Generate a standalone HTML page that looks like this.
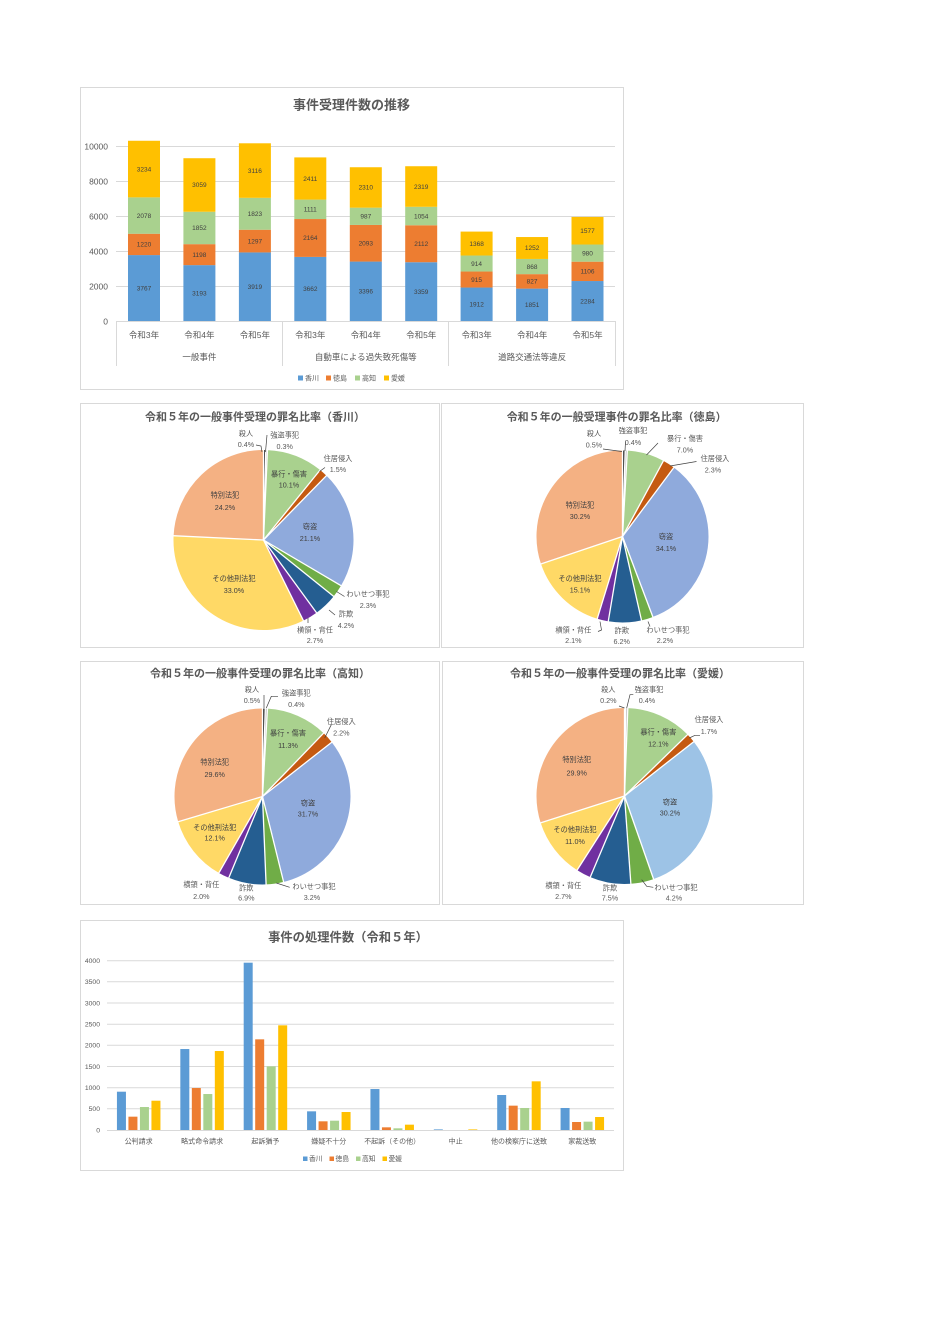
<!DOCTYPE html>
<html><head><meta charset="utf-8">
<style>
html,body{margin:0;padding:0;background:#fff;}
svg{display:block;}
text{font-family:"Liberation Sans","Noto Sans CJK JP",sans-serif;}
</style></head>
<body>
<svg width="940" height="1329" viewBox="0 0 940 1329" xmlns="http://www.w3.org/2000/svg">
<rect x="0" y="0" width="940" height="1329" fill="#fff"/>

<!-- ============ TOP STACKED BAR CHART ============ -->
<rect x="80.5" y="87.5" width="543" height="302" fill="#fff" stroke="#D9D9D9" stroke-width="1"/>
<text x="351.5" y="109.5" text-anchor="middle" font-size="13" font-weight="bold" fill="#595959">事件受理件数の推移</text>
<g stroke="#D9D9D9" stroke-width="1">
<line x1="116" y1="146.5" x2="615" y2="146.5"/>
<line x1="116" y1="181.5" x2="615" y2="181.5"/>
<line x1="116" y1="216.5" x2="615" y2="216.5"/>
<line x1="116" y1="251.5" x2="615" y2="251.5"/>
<line x1="116" y1="286.5" x2="615" y2="286.5"/>
<line x1="116" y1="321.5" x2="615" y2="321.5"/>
<line x1="116.5" y1="321" x2="116.5" y2="366"/>
<line x1="282.5" y1="321" x2="282.5" y2="366"/>
<line x1="448.5" y1="321" x2="448.5" y2="366"/>
<line x1="615.5" y1="321" x2="615.5" y2="366"/>
</g>
<g font-size="8.5" fill="#595959" text-anchor="end">
<text x="108" y="149.5">10000</text>
<text x="108" y="184.5">8000</text>
<text x="108" y="219.5">6000</text>
<text x="108" y="254.5">4000</text>
<text x="108" y="289.5">2000</text>
<text x="108" y="324.5">0</text>
</g>
<!-- bars -->
<g>
<rect x="128" y="255.08" width="32" height="65.92" fill="#5B9BD5"/>
<rect x="128" y="233.73" width="32" height="21.35" fill="#ED7D31"/>
<rect x="128" y="197.37" width="32" height="36.37" fill="#A9D18E"/>
<rect x="128" y="140.77" width="32" height="56.60" fill="#FFC000"/>

<rect x="183.4" y="265.12" width="32" height="55.88" fill="#5B9BD5"/>
<rect x="183.4" y="244.16" width="32" height="20.97" fill="#ED7D31"/>
<rect x="183.4" y="211.75" width="32" height="32.41" fill="#A9D18E"/>
<rect x="183.4" y="158.22" width="32" height="53.53" fill="#FFC000"/>

<rect x="238.9" y="252.42" width="32" height="68.58" fill="#5B9BD5"/>
<rect x="238.9" y="229.72" width="32" height="22.70" fill="#ED7D31"/>
<rect x="238.9" y="197.82" width="32" height="31.90" fill="#A9D18E"/>
<rect x="238.9" y="143.29" width="32" height="54.53" fill="#FFC000"/>

<rect x="294.3" y="256.91" width="32" height="64.09" fill="#5B9BD5"/>
<rect x="294.3" y="219.04" width="32" height="37.87" fill="#ED7D31"/>
<rect x="294.3" y="199.60" width="32" height="19.44" fill="#A9D18E"/>
<rect x="294.3" y="157.41" width="32" height="42.19" fill="#FFC000"/>

<rect x="349.8" y="261.57" width="32" height="59.43" fill="#5B9BD5"/>
<rect x="349.8" y="224.94" width="32" height="36.63" fill="#ED7D31"/>
<rect x="349.8" y="207.67" width="32" height="17.27" fill="#A9D18E"/>
<rect x="349.8" y="167.24" width="32" height="40.43" fill="#FFC000"/>

<rect x="405.2" y="262.22" width="32" height="58.78" fill="#5B9BD5"/>
<rect x="405.2" y="225.26" width="32" height="36.96" fill="#ED7D31"/>
<rect x="405.2" y="206.81" width="32" height="18.45" fill="#A9D18E"/>
<rect x="405.2" y="166.23" width="32" height="40.58" fill="#FFC000"/>

<rect x="460.6" y="287.54" width="32" height="33.46" fill="#5B9BD5"/>
<rect x="460.6" y="271.53" width="32" height="16.01" fill="#ED7D31"/>
<rect x="460.6" y="255.53" width="32" height="16.00" fill="#A9D18E"/>
<rect x="460.6" y="231.59" width="32" height="23.94" fill="#FFC000"/>

<rect x="516.1" y="288.61" width="32" height="32.39" fill="#5B9BD5"/>
<rect x="516.1" y="274.14" width="32" height="14.47" fill="#ED7D31"/>
<rect x="516.1" y="258.95" width="32" height="15.19" fill="#A9D18E"/>
<rect x="516.1" y="237.04" width="32" height="21.91" fill="#FFC000"/>

<rect x="571.5" y="281.03" width="32" height="39.97" fill="#5B9BD5"/>
<rect x="571.5" y="261.67" width="32" height="19.36" fill="#ED7D31"/>
<rect x="571.5" y="244.52" width="32" height="17.15" fill="#A9D18E"/>
<rect x="571.5" y="216.92" width="32" height="27.60" fill="#FFC000"/>
</g>
<!-- data labels -->
<g font-size="6.5" fill="#404040" text-anchor="middle">
<text x="144" y="290.5">3767</text><text x="144" y="246.7">1220</text><text x="144" y="217.8">2078</text><text x="144" y="171.3">3234</text>
<text x="199.4" y="295.3">3193</text><text x="199.4" y="256.9">1198</text><text x="199.4" y="230.2">1852</text><text x="199.4" y="187.2">3059</text>
<text x="254.9" y="289">3919</text><text x="254.9" y="243.3">1297</text><text x="254.9" y="216">1823</text><text x="254.9" y="172.8">3116</text>
<text x="310.3" y="291.2">3662</text><text x="310.3" y="240.2">2164</text><text x="310.3" y="211.6">1111</text><text x="310.3" y="180.8">2411</text>
<text x="365.8" y="293.5">3396</text><text x="365.8" y="245.5">2093</text><text x="365.8" y="218.5">987</text><text x="365.8" y="189.7">2310</text>
<text x="421.2" y="293.9">3359</text><text x="421.2" y="246">2112</text><text x="421.2" y="218.3">1054</text><text x="421.2" y="188.8">2319</text>
<text x="476.6" y="306.5">1912</text><text x="476.6" y="281.8">915</text><text x="476.6" y="265.8">914</text><text x="476.6" y="245.8">1368</text>
<text x="532.1" y="307">1851</text><text x="532.1" y="283.6">827</text><text x="532.1" y="268.8">868</text><text x="532.1" y="250.2">1252</text>
<text x="587.5" y="303.3">2284</text><text x="587.5" y="273.6">1106</text><text x="587.5" y="255.4">980</text><text x="587.5" y="233">1577</text>
</g>
<g font-size="8.5" fill="#595959" text-anchor="middle">
<text x="144" y="338">令和3年</text>
<text x="199.4" y="338">令和4年</text>
<text x="254.9" y="338">令和5年</text>
<text x="310.3" y="338">令和3年</text>
<text x="365.8" y="338">令和4年</text>
<text x="421.2" y="338">令和5年</text>
<text x="476.6" y="338">令和3年</text>
<text x="532.1" y="338">令和4年</text>
<text x="587.5" y="338">令和5年</text>
<text x="199.4" y="360">一般事件</text>
<text x="365.8" y="360">自動車による過失致死傷等</text>
<text x="532.1" y="360">道路交通法等違反</text>
</g>
<g font-size="7" fill="#595959">
<rect x="298" y="375.5" width="5" height="5" fill="#5B9BD5"/><text x="305" y="380.5">香川</text>
<rect x="326" y="375.5" width="5" height="5" fill="#ED7D31"/><text x="333" y="380.5">徳島</text>
<rect x="355" y="375.5" width="5" height="5" fill="#A9D18E"/><text x="362" y="380.5">高知</text>
<rect x="384" y="375.5" width="5" height="5" fill="#FFC000"/><text x="391" y="380.5">愛媛</text>
</g>

<!-- ============ PIE BOXES ============ -->
<rect x="80.5" y="403.5" width="359" height="244" fill="#fff" stroke="#D9D9D9"/>
<rect x="441.5" y="403.5" width="362" height="244" fill="#fff" stroke="#D9D9D9"/>
<rect x="80.5" y="661.5" width="359" height="243" fill="#fff" stroke="#D9D9D9"/>
<rect x="442.5" y="661.5" width="361" height="243" fill="#fff" stroke="#D9D9D9"/>

<!-- PIE 1 香川 -->
<text x="255" y="420.5" text-anchor="middle" font-size="11" font-weight="bold" fill="#595959">令和５年の一般事件受理の罪名比率（香川）</text>
<g transform="translate(263.5,540)" fill="none" stroke-width="90">
<circle r="45" stroke="#333333" stroke-dasharray="1.133 300" transform="rotate(-90)"/>
<circle r="45" stroke="#BFBFBF" stroke-dasharray="0.850 300" transform="rotate(-88.557)"/>
<circle r="45" stroke="#A9D18E" stroke-dasharray="28.614 300" transform="rotate(-87.475)"/>
<circle r="45" stroke="#C55A11" stroke-dasharray="4.250 300" transform="rotate(-51.042)"/>
<circle r="45" stroke="#8FAADC" stroke-dasharray="59.778 300" transform="rotate(-45.631)"/>
<circle r="45" stroke="#70AD47" stroke-dasharray="6.516 300" transform="rotate(30.481)"/>
<circle r="45" stroke="#255E91" stroke-dasharray="11.899 300" transform="rotate(38.778)"/>
<circle r="45" stroke="#7030A0" stroke-dasharray="7.649 300" transform="rotate(53.928)"/>
<circle r="45" stroke="#FFD966" stroke-dasharray="93.492 300" transform="rotate(63.667)"/>
<circle r="45" stroke="#F4B183" stroke-dasharray="68.561 300" transform="rotate(182.705)"/>
<g stroke="#fff" stroke-width="1.3">
<line x1="0" y1="0" x2="0" y2="-91" transform="rotate(0)"/>
<line x1="0" y1="0" x2="0" y2="-91" transform="rotate(1.443)"/>
<line x1="0" y1="0" x2="0" y2="-91" transform="rotate(2.525)"/>
<line x1="0" y1="0" x2="0" y2="-91" transform="rotate(38.958)"/>
<line x1="0" y1="0" x2="0" y2="-91" transform="rotate(44.369)"/>
<line x1="0" y1="0" x2="0" y2="-91" transform="rotate(120.481)"/>
<line x1="0" y1="0" x2="0" y2="-91" transform="rotate(128.778)"/>
<line x1="0" y1="0" x2="0" y2="-91" transform="rotate(143.928)"/>
<line x1="0" y1="0" x2="0" y2="-91" transform="rotate(153.667)"/>
<line x1="0" y1="0" x2="0" y2="-91" transform="rotate(272.705)"/>
</g>
</g>
<g fill="none" stroke="#404040" stroke-width="0.7">
<polyline points="256,445 261,446 262,452"/>
<polyline points="267,435 265.5,452"/>
<polyline points="319.5,471.5 325,467.5"/>
<polyline points="336.5,591.5 344.5,596.5"/>
<polyline points="329,610 335,615"/>
<polyline points="308,618 308,623"/>
</g>
<g font-size="7.2" fill="#595959" text-anchor="middle">
<text x="246" y="436">殺人</text><text x="246" y="447">0.4%</text>
<text x="284.7" y="437.5">強盗事犯</text><text x="284.7" y="449">0.3%</text>
<text x="338" y="460.8">住居侵入</text><text x="338" y="471.8">1.5%</text>
<text x="289" y="476.5" fill="#404040">暴行・傷害</text><text x="289" y="487.5" fill="#404040">10.1%</text>
<text x="310" y="529.2" fill="#404040">窃盗</text><text x="310" y="540.8" fill="#404040">21.1%</text>
<text x="225" y="497.5" fill="#404040">特別法犯</text><text x="225" y="509.8" fill="#404040">24.2%</text>
<text x="234" y="580.8" fill="#404040">その他刑法犯</text><text x="234" y="593.2" fill="#404040">33.0%</text>
<text x="368" y="596.5">わいせつ事犯</text><text x="368" y="608.2">2.3%</text>
<text x="346" y="616.5">詐欺</text><text x="346" y="628.2">4.2%</text>
<text x="315" y="632.5">横領・背任</text><text x="315" y="643.2">2.7%</text>
</g>

<!-- PIE 2 徳島 -->
<text x="616.7" y="420.5" text-anchor="middle" font-size="11" font-weight="bold" fill="#595959">令和５年の一般受理事件の罪名比率（徳島）</text>
<g transform="translate(622.5,536.5)" fill="none" stroke-width="86">
<circle r="43" stroke="#333333" stroke-dasharray="1.350 300" transform="rotate(-90)"/>
<circle r="43" stroke="#BFBFBF" stroke-dasharray="1.080 300" transform="rotate(-88.202)"/>
<circle r="43" stroke="#A9D18E" stroke-dasharray="18.893 300" transform="rotate(-86.763)"/>
<circle r="43" stroke="#C55A11" stroke-dasharray="6.208 300" transform="rotate(-61.588)"/>
<circle r="43" stroke="#8FAADC" stroke-dasharray="92.038 300" transform="rotate(-53.317)"/>
<circle r="43" stroke="#70AD47" stroke-dasharray="5.938 300" transform="rotate(69.32)"/>
<circle r="43" stroke="#255E91" stroke-dasharray="16.734 300" transform="rotate(77.23)"/>
<circle r="43" stroke="#7030A0" stroke-dasharray="5.668 300" transform="rotate(99.53)"/>
<circle r="43" stroke="#FFD966" stroke-dasharray="40.756 300" transform="rotate(107.08)"/>
<circle r="43" stroke="#F4B183" stroke-dasharray="81.512 300" transform="rotate(161.39)"/>
<g stroke="#fff" stroke-width="1.3">
<line x1="0" y1="0" x2="0" y2="-87" transform="rotate(0)"/>
<line x1="0" y1="0" x2="0" y2="-87" transform="rotate(1.798)"/>
<line x1="0" y1="0" x2="0" y2="-87" transform="rotate(3.237)"/>
<line x1="0" y1="0" x2="0" y2="-87" transform="rotate(28.412)"/>
<line x1="0" y1="0" x2="0" y2="-87" transform="rotate(36.683)"/>
<line x1="0" y1="0" x2="0" y2="-87" transform="rotate(159.32)"/>
<line x1="0" y1="0" x2="0" y2="-87" transform="rotate(167.23)"/>
<line x1="0" y1="0" x2="0" y2="-87" transform="rotate(189.53)"/>
<line x1="0" y1="0" x2="0" y2="-87" transform="rotate(197.08)"/>
<line x1="0" y1="0" x2="0" y2="-87" transform="rotate(251.39)"/>
</g>
</g>
<g fill="none" stroke="#404040" stroke-width="0.7">
<polyline points="603,449 622,451.5"/>
<polyline points="625.5,441.5 625,451"/>
<polyline points="646.5,455 658,443"/>
<polyline points="670,466 696.5,461.5"/>
<polyline points="600,621.5 601.5,630 598,631.5"/>
<polyline points="648,621.5 650,626.5"/>
</g>
<g font-size="7.2" fill="#595959" text-anchor="middle">
<text x="594" y="436">殺人</text><text x="594" y="447.5">0.5%</text>
<text x="633" y="433.2">強盗事犯</text><text x="633" y="444.8">0.4%</text>
<text x="685" y="440.8">暴行・傷害</text><text x="685" y="452.5">7.0%</text>
<text x="715" y="460.8">住居侵入</text><text x="713" y="472.5">2.3%</text>
<text x="666" y="539.2" fill="#404040">窃盗</text><text x="666" y="550.8" fill="#404040">34.1%</text>
<text x="580" y="507.5" fill="#404040">特別法犯</text><text x="580" y="519.2" fill="#404040">30.2%</text>
<text x="580" y="580.8" fill="#404040">その他刑法犯</text><text x="580" y="592.5" fill="#404040">15.1%</text>
<text x="573.3" y="632.5">横領・背任</text><text x="573.3" y="643">2.1%</text>
<text x="621.7" y="633.2">詐欺</text><text x="621.7" y="644.2">6.2%</text>
<text x="668" y="632.5">わいせつ事犯</text><text x="665" y="643.2">2.2%</text>
</g>

<!-- PIE 3 高知 -->
<text x="260" y="677" text-anchor="middle" font-size="11" font-weight="bold" fill="#595959">令和５年の一般事件受理の罪名比率（高知）</text>
<g transform="translate(262.5,796.5)" fill="none" stroke-width="88">
<circle r="44" stroke="#333333" stroke-dasharray="1.384 300" transform="rotate(-90)"/>
<circle r="44" stroke="#BFBFBF" stroke-dasharray="1.107 300" transform="rotate(-88.198)"/>
<circle r="44" stroke="#A9D18E" stroke-dasharray="31.271 300" transform="rotate(-86.757)"/>
<circle r="44" stroke="#C55A11" stroke-dasharray="6.088 300" transform="rotate(-46.036)"/>
<circle r="44" stroke="#8FAADC" stroke-dasharray="87.726 300" transform="rotate(-38.108)"/>
<circle r="44" stroke="#70AD47" stroke-dasharray="8.856 300" transform="rotate(76.126)"/>
<circle r="44" stroke="#255E91" stroke-dasharray="19.095 300" transform="rotate(87.658)"/>
<circle r="44" stroke="#7030A0" stroke-dasharray="5.535 300" transform="rotate(112.523)"/>
<circle r="44" stroke="#FFD966" stroke-dasharray="33.485 300" transform="rotate(119.730)"/>
<circle r="44" stroke="#F4B183" stroke-dasharray="81.914 300" transform="rotate(163.333)"/>
<g stroke="#fff" stroke-width="1.3">
<line x1="0" y1="0" x2="0" y2="-89" transform="rotate(0)"/>
<line x1="0" y1="0" x2="0" y2="-89" transform="rotate(1.802)"/>
<line x1="0" y1="0" x2="0" y2="-89" transform="rotate(3.243)"/>
<line x1="0" y1="0" x2="0" y2="-89" transform="rotate(43.964)"/>
<line x1="0" y1="0" x2="0" y2="-89" transform="rotate(51.892)"/>
<line x1="0" y1="0" x2="0" y2="-89" transform="rotate(166.126)"/>
<line x1="0" y1="0" x2="0" y2="-89" transform="rotate(177.658)"/>
<line x1="0" y1="0" x2="0" y2="-89" transform="rotate(202.523)"/>
<line x1="0" y1="0" x2="0" y2="-89" transform="rotate(209.730)"/>
<line x1="0" y1="0" x2="0" y2="-89" transform="rotate(253.333)"/>
</g>
</g>
<g fill="none" stroke="#404040" stroke-width="0.7">
<polyline points="264,695 264,708"/>
<polyline points="266.3,708 271.3,696.3 278,696.3"/>
<polyline points="324.7,738 331.3,724.7"/>
<polyline points="276.3,883 289.7,887.3"/>
</g>
<g font-size="7.2" fill="#595959" text-anchor="middle">
<text x="252" y="692.2">殺人</text><text x="252" y="703.2">0.5%</text>
<text x="296.3" y="695.5">強盗事犯</text><text x="296.3" y="707.2">0.4%</text>
<text x="341.3" y="723.8">住居侵入</text><text x="341.3" y="735.5">2.2%</text>
<text x="288" y="735.5" fill="#404040">暴行・傷害</text><text x="288" y="747.8" fill="#404040">11.3%</text>
<text x="308" y="805.5" fill="#404040">窃盗</text><text x="308" y="816.5" fill="#404040">31.7%</text>
<text x="214.7" y="764.5" fill="#404040">特別法犯</text><text x="214.7" y="777.2" fill="#404040">29.6%</text>
<text x="214.7" y="829.8" fill="#404040">その他刑法犯</text><text x="214.7" y="840.5" fill="#404040">12.1%</text>
<text x="201.3" y="887.2">横領・背任</text><text x="201.3" y="898.8">2.0%</text>
<text x="246.3" y="890.5">詐欺</text><text x="246.3" y="900.5">6.9%</text>
<text x="314" y="888.8">わいせつ事犯</text><text x="312" y="899.8">3.2%</text>
</g>

<!-- PIE 4 愛媛 -->
<text x="620" y="677" text-anchor="middle" font-size="11" font-weight="bold" fill="#595959">令和５年の一般事件受理の罪名比率（愛媛）</text>
<g transform="translate(624.5,796)" fill="none" stroke-width="88">
<circle r="44" stroke="#333333" stroke-dasharray="0.553 300" transform="rotate(-90)"/>
<circle r="44" stroke="#BFBFBF" stroke-dasharray="1.107 300" transform="rotate(-89.279)"/>
<circle r="44" stroke="#A9D18E" stroke-dasharray="33.485 300" transform="rotate(-87.838)"/>
<circle r="44" stroke="#C55A11" stroke-dasharray="4.705 300" transform="rotate(-44.234)"/>
<circle r="44" stroke="#9DC3E6" stroke-dasharray="83.575 300" transform="rotate(-38.108)"/>
<circle r="44" stroke="#70AD47" stroke-dasharray="11.623 300" transform="rotate(70.721)"/>
<circle r="44" stroke="#255E91" stroke-dasharray="20.755 300" transform="rotate(85.856)"/>
<circle r="44" stroke="#7030A0" stroke-dasharray="7.472 300" transform="rotate(112.883)"/>
<circle r="44" stroke="#FFD966" stroke-dasharray="30.441 300" transform="rotate(122.613)"/>
<circle r="44" stroke="#F4B183" stroke-dasharray="82.744 300" transform="rotate(162.252)"/>
<g stroke="#fff" stroke-width="1.3">
<line x1="0" y1="0" x2="0" y2="-89" transform="rotate(0)"/>
<line x1="0" y1="0" x2="0" y2="-89" transform="rotate(0.721)"/>
<line x1="0" y1="0" x2="0" y2="-89" transform="rotate(2.162)"/>
<line x1="0" y1="0" x2="0" y2="-89" transform="rotate(45.766)"/>
<line x1="0" y1="0" x2="0" y2="-89" transform="rotate(51.892)"/>
<line x1="0" y1="0" x2="0" y2="-89" transform="rotate(160.721)"/>
<line x1="0" y1="0" x2="0" y2="-89" transform="rotate(175.856)"/>
<line x1="0" y1="0" x2="0" y2="-89" transform="rotate(202.883)"/>
<line x1="0" y1="0" x2="0" y2="-89" transform="rotate(212.613)"/>
<line x1="0" y1="0" x2="0" y2="-89" transform="rotate(252.252)"/>
</g>
</g>
<g fill="none" stroke="#404040" stroke-width="0.7">
<polyline points="619,706 624.5,708"/>
<polyline points="626.7,708 630,694.7 633.3,694.7"/>
<polyline points="689.3,738 695,735.3 700,735.3"/>
<polyline points="641.7,879.7 646.7,886.3 653.3,887.3"/>
</g>
<g font-size="7.2" fill="#595959" text-anchor="middle">
<text x="608.3" y="692.2">殺人</text><text x="608.3" y="703.2">0.2%</text>
<text x="649" y="692.2">強盗事犯</text><text x="647" y="703.2">0.4%</text>
<text x="709" y="722.2">住居侵入</text><text x="709" y="733.8">1.7%</text>
<text x="658.3" y="734.5" fill="#404040">暴行・傷害</text><text x="658.3" y="746.5" fill="#404040">12.1%</text>
<text x="670" y="804.5" fill="#404040">窃盗</text><text x="670" y="815.5" fill="#404040">30.2%</text>
<text x="576.7" y="762.2" fill="#404040">特別法犯</text><text x="576.7" y="775.5" fill="#404040">29.9%</text>
<text x="575" y="832.2" fill="#404040">その他刑法犯</text><text x="575" y="843.8" fill="#404040">11.0%</text>
<text x="563.3" y="887.8">横領・背任</text><text x="563.3" y="898.8">2.7%</text>
<text x="610" y="890.5">詐欺</text><text x="610" y="900.5">7.5%</text>
<text x="676" y="889.8">わいせつ事犯</text><text x="674" y="900.5">4.2%</text>
</g>

<!-- ============ BOTTOM CLUSTERED BAR CHART ============ -->
<rect x="80.5" y="920.5" width="543" height="250" fill="#fff" stroke="#D9D9D9"/>
<text x="348" y="941.5" text-anchor="middle" font-size="12.3" font-weight="bold" fill="#595959">事件の処理件数（令和５年）</text>
<g stroke="#D9D9D9" stroke-width="1">
<line x1="107" y1="960.7" x2="614" y2="960.7"/>
<line x1="107" y1="981.8" x2="614" y2="981.8"/>
<line x1="107" y1="1003" x2="614" y2="1003"/>
<line x1="107" y1="1024.2" x2="614" y2="1024.2"/>
<line x1="107" y1="1045.3" x2="614" y2="1045.3"/>
<line x1="107" y1="1066.5" x2="614" y2="1066.5"/>
<line x1="107" y1="1087.7" x2="614" y2="1087.7"/>
<line x1="107" y1="1108.8" x2="614" y2="1108.8"/>
<line x1="107" y1="1130.5" x2="614" y2="1130.5"/>
</g>
<g font-size="6.8" fill="#595959" text-anchor="end">
<text x="100" y="963">4000</text>
<text x="100" y="984.1">3500</text>
<text x="100" y="1005.3">3000</text>
<text x="100" y="1026.5">2500</text>
<text x="100" y="1047.6">2000</text>
<text x="100" y="1068.8">1500</text>
<text x="100" y="1090">1000</text>
<text x="100" y="1111.1">500</text>
<text x="100" y="1132.3">0</text>
</g>
<g>
<rect x="116.94" y="1091.70" width="9" height="38.30" fill="#5B9BD5"/>
<rect x="128.44" y="1116.67" width="9" height="13.33" fill="#ED7D31"/>
<rect x="139.94" y="1107.02" width="9" height="22.98" fill="#A9D18E"/>
<rect x="151.44" y="1100.71" width="9" height="29.29" fill="#FFC000"/>

<rect x="180.32" y="1049.03" width="9" height="80.97" fill="#5B9BD5"/>
<rect x="191.82" y="1088.01" width="9" height="41.99" fill="#ED7D31"/>
<rect x="203.32" y="1094.02" width="9" height="35.98" fill="#A9D18E"/>
<rect x="214.82" y="1051.02" width="9" height="78.98" fill="#FFC000"/>

<rect x="243.69" y="962.69" width="9" height="167.31" fill="#5B9BD5"/>
<rect x="255.19" y="1039.34" width="9" height="90.66" fill="#ED7D31"/>
<rect x="266.69" y="1066.34" width="9" height="63.66" fill="#A9D18E"/>
<rect x="278.19" y="1025.33" width="9" height="104.67" fill="#FFC000"/>

<rect x="307.07" y="1111.33" width="9" height="18.67" fill="#5B9BD5"/>
<rect x="318.57" y="1121.32" width="9" height="8.68" fill="#ED7D31"/>
<rect x="330.07" y="1120.69" width="9" height="9.31" fill="#A9D18E"/>
<rect x="341.57" y="1112.01" width="9" height="17.99" fill="#FFC000"/>

<rect x="370.44" y="1089.03" width="9" height="40.97" fill="#5B9BD5"/>
<rect x="381.94" y="1127.33" width="9" height="2.67" fill="#ED7D31"/>
<rect x="393.44" y="1128.31" width="9" height="1.69" fill="#A9D18E"/>
<rect x="404.94" y="1124.67" width="9" height="5.33" fill="#FFC000"/>

<rect x="433.82" y="1129.4" width="9" height="0.6" fill="#5B9BD5"/>
<rect x="468.32" y="1129.4" width="9" height="0.6" fill="#FFC000"/>

<rect x="497.19" y="1095.00" width="9" height="35.00" fill="#5B9BD5"/>
<rect x="508.69" y="1105.66" width="9" height="24.34" fill="#ED7D31"/>
<rect x="520.19" y="1107.99" width="9" height="22.01" fill="#A9D18E"/>
<rect x="531.69" y="1081.33" width="9" height="48.67" fill="#FFC000"/>

<rect x="560.57" y="1107.99" width="9" height="22.01" fill="#5B9BD5"/>
<rect x="572.07" y="1122.00" width="9" height="8.00" fill="#ED7D31"/>
<rect x="583.57" y="1121.66" width="9" height="8.34" fill="#A9D18E"/>
<rect x="595.07" y="1117.01" width="9" height="12.99" fill="#FFC000"/>
</g>
<g font-size="7" fill="#595959" text-anchor="middle">
<text x="138.7" y="1143.5">公判請求</text>
<text x="202.1" y="1143.5">略式命令請求</text>
<text x="265.4" y="1143.5">起訴猶予</text>
<text x="328.8" y="1143.5">嫌疑不十分</text>
<text x="392.2" y="1143.5">不起訴（その他）</text>
<text x="455.6" y="1143.5">中止</text>
<text x="519" y="1143.5">他の検察庁に送致</text>
<text x="582.3" y="1143.5">家裁送致</text>
</g>
<g font-size="6.8" fill="#595959">
<rect x="303" y="1156.5" width="4.5" height="4.5" fill="#5B9BD5"/><text x="309" y="1161">香川</text>
<rect x="329.5" y="1156.5" width="4.5" height="4.5" fill="#ED7D31"/><text x="335.5" y="1161">徳島</text>
<rect x="356" y="1156.5" width="4.5" height="4.5" fill="#A9D18E"/><text x="362" y="1161">高知</text>
<rect x="382.5" y="1156.5" width="4.5" height="4.5" fill="#FFC000"/><text x="388.5" y="1161">愛媛</text>
</g>
</svg>
</body></html>
